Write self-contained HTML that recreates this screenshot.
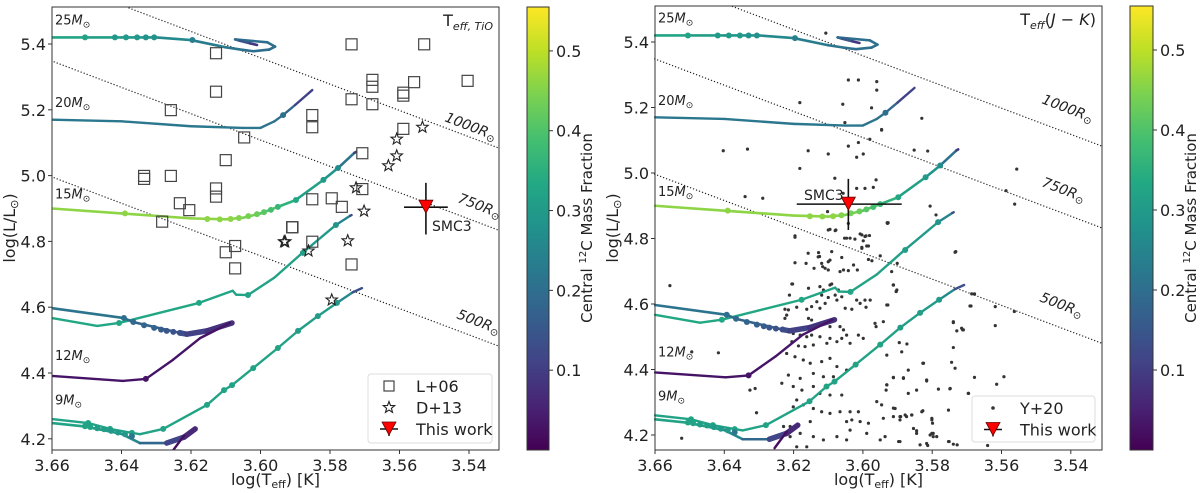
<!DOCTYPE html>
<html><head><meta charset="utf-8">
<style>
html,body{margin:0;padding:0;background:#fff;width:1200px;height:493px;overflow:hidden;}
svg{display:block;font-family:"DejaVu Sans","Liberation Sans",sans-serif;}
</style></head>
<body>
<svg id="fig" width="1200" height="493" viewBox="0 0 1200 493" xmlns="http://www.w3.org/2000/svg">
<defs>
<linearGradient id="viridis" x1="0" y1="1" x2="0" y2="0">
<stop offset="0" stop-color="#440154"/><stop offset="0.1" stop-color="#482475"/><stop offset="0.2" stop-color="#414487"/><stop offset="0.3" stop-color="#355f8d"/><stop offset="0.4" stop-color="#2a788e"/><stop offset="0.5" stop-color="#21918c"/><stop offset="0.6" stop-color="#22a884"/><stop offset="0.7" stop-color="#44bf70"/><stop offset="0.8" stop-color="#7ad151"/><stop offset="0.9" stop-color="#bddf26"/><stop offset="1" stop-color="#fde725"/>
</linearGradient>
<clipPath id="clipL"><rect x="52" y="7" width="447" height="443"/></clipPath>
<clipPath id="clipR"><rect x="654" y="6" width="448" height="444"/></clipPath>
</defs>
</svg>
<script>
// ---------- data ----------
const xTicks=[3.66,3.64,3.62,3.60,3.58,3.56,3.54];
const yTicks=[4.2,4.4,4.6,4.8,5.0,5.2,5.4];
const cbTicks=[0.1,0.2,0.3,0.4,0.5];
const cbMax=0.555;
const radii=[500,750,1000];
const radiusLabels=["500","750","1000"];
const massLabels=["25","20","15","12","9"];
const massLabelL=[5.46,5.208,4.93,4.44,4.305];

const t25T=[3.66,3.650,3.640,3.630,3.620,3.610,3.605,3.602,3.5975,3.5958,3.598,3.6073,3.606,3.603,3.601];
const t25L=[5.42,5.42,5.42,5.42,5.412,5.39,5.382,5.378,5.383,5.392,5.405,5.414,5.41,5.402,5.397];
const t25C=[0.33,0.32,0.30,0.28,0.24,0.22,0.21,0.2,0.2,0.2,0.2,0.2,0.18,0.12,0.05];
const d25T=[3.6505,3.6419,3.6387,3.6355,3.6330,3.6306,3.6196];
const d25L=[5.42,5.42,5.42,5.42,5.42,5.42,5.412];

const t20T=[3.66,3.64,3.62,3.605,3.600,3.596,3.5935,3.590,3.5851];
const t20L=[5.17,5.165,5.15,5.145,5.145,5.165,5.184,5.215,5.260];
const t20C=[0.22,0.22,0.22,0.22,0.22,0.21,0.2,0.17,0.05];
const d20T=[3.5935];
const d20L=[5.184];

const t15T=[3.66,3.64,3.62,3.61,3.605,3.60,3.595,3.59,3.5819,3.5777,3.573,3.5725];
const t15L=[4.90,4.885,4.87,4.867,4.872,4.885,4.905,4.925,4.987,5.023,5.069,5.072];
const t15C=[0.46,0.46,0.46,0.46,0.45,0.43,0.38,0.33,0.30,0.27,0.15,0.05];
const d15T=[3.639,3.6153,3.6117,3.6086,3.6062,3.6035,3.601,3.599,3.597,3.595,3.5898,3.5819,3.5777];
const d15L=[4.885,4.868,4.867,4.868,4.871,4.877,4.883,4.889,4.896,4.905,4.926,4.987,5.023];
const d15C=[0.46,0.46,0.46,0.46,0.45,0.44,0.43,0.41,0.39,0.37,0.33,0.30,0.27];

const tBT=[3.66,3.647,3.6407,3.6177,3.608,3.607,3.6036,3.596,3.5886,3.5783,3.5742,3.5738];
const tBL=[4.567,4.543,4.552,4.613,4.65,4.638,4.637,4.69,4.759,4.850,4.878,4.880];
const tBC=[0.33,0.33,0.33,0.33,0.32,0.32,0.32,0.32,0.31,0.29,0.2,0.05];
const dBT=[3.6407,3.6177,3.6036,3.5878,3.5783];
const dBL=[4.552,4.613,4.637,4.765,4.850];

const tUT=[3.66,3.6393,3.6367,3.6232,3.6212,3.6154,3.6082];
const tUL=[4.597,4.567,4.555,4.522,4.518,4.528,4.552];
const tUC=[0.22,0.2,0.19,0.15,0.12,0.09,0.07];
const dUT=[3.6393,3.6366,3.6335,3.6306,3.6286,3.6270,3.6251,3.6232];
const dUL=[4.567,4.555,4.545,4.537,4.532,4.528,4.525,4.522];
const dUC=[0.2,0.19,0.18,0.17,0.16,0.15,0.14,0.13];

const t12T=[3.66,3.6396,3.633,3.6252,3.6174,3.6088];
const t12L=[4.391,4.376,4.382,4.44,4.506,4.552];
const t12C=[0.03,0.03,0.03,0.03,0.03,0.03];
const d12T=[3.633];
const d12L=[4.382];

const t9aT=[3.66,3.6496,3.6433,3.637,3.6347,3.628,3.6154,3.6105,3.6082,3.6021,3.595,3.5892,3.5835,3.578,3.5735,3.5708];
const t9aL=[4.26,4.248,4.23,4.218,4.214,4.23,4.303,4.348,4.363,4.415,4.476,4.528,4.573,4.613,4.645,4.658];
const t9aC=[0.32,0.32,0.32,0.32,0.32,0.32,0.32,0.32,0.32,0.32,0.32,0.31,0.31,0.3,0.22,0.05];
const d9aT=[3.6496,3.6433,3.637,3.628,3.6154,3.6105,3.6082,3.6021,3.595,3.5892,3.5835,3.578];
const d9aL=[4.248,4.23,4.218,4.23,4.303,4.348,4.363,4.415,4.476,4.528,4.573,4.613];

const t9bT=[3.66,3.651,3.646,3.640,3.6347,3.627,3.622,3.6188];
const t9bL=[4.248,4.238,4.228,4.215,4.187,4.187,4.205,4.23];
const t9bC=[0.32,0.32,0.31,0.30,0.22,0.15,0.08,0.05];
const d9bT=[3.6505,3.649,3.647,3.645,3.643,3.641,3.639,3.637];
const d9bL=[4.238,4.236,4.232,4.229,4.224,4.219,4.214,4.208];

const t9cT=[3.622,3.6255];
const t9cL=[4.21,4.16];
const t9cC=[0.02,0.02];

// L+06 squares (left panel)
const sqT=[3.6128,3.6128,3.6258,3.6047,3.6100,3.6335,3.6335,3.6258,3.6128,3.6128,3.6232,3.6205,3.6283,3.6073,3.6100,3.6073,3.5909,3.5738,3.5529,3.5678,3.5678,3.5558,3.5404,3.5589,3.5589,3.5738,3.5678,3.5589,3.5851,3.5851,3.5707,3.5707,3.5851,3.5795,3.5766,3.5908,3.5851,3.5738];
const sqL=[5.372,5.255,5.199,5.116,5.047,4.999,4.990,4.999,4.961,4.936,4.916,4.895,4.860,4.786,4.767,4.718,4.843,5.399,5.399,5.291,5.270,5.284,5.288,5.252,5.243,5.232,5.217,5.142,5.184,5.147,5.068,4.959,4.928,4.931,4.905,4.843,4.799,4.730];
// D+13 stars (left panel)
const stT=[3.5932,3.5534,3.5608,3.5608,3.5632,3.5725,3.5702,3.5929,3.5862,3.5749,3.5795];
const stL=[4.799,5.147,5.111,5.060,5.030,4.963,4.892,4.799,4.771,4.802,4.622];
// Y+20 dots (right panel)
const yT=[3.6196,3.6095,3.6080,3.6042,3.6053,3.6037,3.6008,3.5991,3.5981,3.5999,3.5984,3.6003,3.5929,3.6090,3.6128,3.6125,3.6061,3.6100,3.6196,3.6164,3.6119,3.6141,3.6109,3.6116,3.6100,3.6066,3.6056,3.6042,3.6027,3.6016,3.5984,3.5950,3.5974,3.6203,3.6212,3.6157,3.6124,3.6095,3.6090,3.6114,3.6119,3.6100,3.6080,3.6075,3.6061,3.6071,3.6032,3.6018,3.6008,3.5994,3.5979,3.5991,3.6032,3.6051,3.6109,3.6133,3.6148,3.6124,3.6162,3.6191,3.6225,3.6215,3.6220,3.6225,3.6157,3.6148,3.6172,3.6143,3.6114,3.6095,3.6066,3.6056,3.6047,3.6061,3.6095,3.6124,3.6148,3.6162,3.6181,3.6201,3.6205,3.6186,3.6167,3.6143,3.6104,3.6075,3.6037,3.6013,3.5999,3.5965,3.5962,3.5912,3.5904,3.5931,3.5734,3.5739,3.5715,3.5710,3.5691,3.5686,3.5678,3.5895,3.5873,3.5931,3.5825,3.5816,3.5883,3.5912,3.5931,3.5933,3.5869,3.5845,3.5748,3.5695,3.6220,3.6196,3.6172,3.6152,3.6119,3.6095,3.6075,3.6047,3.6085,3.6114,3.6143,3.6181,3.6215,3.6234,3.6201,3.6176,3.6143,3.6124,3.6095,3.6061,3.6191,3.6201,3.6172,3.6143,3.6119,3.6095,3.6066,3.6037,3.6013,3.6032,3.6047,3.6008,3.5984,3.5960,3.5946,3.5907,3.5912,3.5893,3.5878,3.5859,3.5830,3.5801,3.5797,3.5854,3.5893,3.5897,3.5845,3.5806,3.5787,3.5753,3.5739,3.5816,3.5950,3.5989,3.6037,3.6047,3.6075,3.6114,3.6143,3.6152,3.6181,3.6210,3.6210,3.6229,3.6162,3.6191,
3.6107,3.6042,3.6013,3.5960,3.5960,3.6182,3.6058,3.5975,3.5946,3.6052,3.6403,3.6333,3.6158,3.6100,3.6042,3.6013,3.5999,3.6018,3.5980,3.6182,3.6081,3.6057,3.6018,3.5994,3.5970,3.5962,3.6340,3.6289,3.6102,3.6100,3.6078,3.6196,3.6047,3.6023,3.6003,3.5994,3.6003,3.5989,3.5927,3.6557,3.6158,3.6129,3.6205,3.6095,3.5912,3.5902,3.6494,3.6417,3.6523,3.6326,3.6311,3.6307,
3.5830,3.5946,3.5852,3.5813,3.5556,3.5587,3.5562,3.5806,3.5789,3.5930,3.5732,3.5901,3.5917,3.5912,3.5904,3.5678,3.5688,3.5618,3.5563,3.5928,3.5941,3.5739,3.5729,3.5712,3.5618,3.5739,3.5827,3.5744,3.5734,3.5678,3.5593,3.5614,3.5696,3.5782,3.5749,3.5816,3.5869,3.5883,3.5912,3.5888,3.5931,3.5753,3.5801,3.5799,3.5801,3.5797,3.5751,3.5728,3.5640,3.5813,3.5859,3.5891,3.5874,3.5912,3.5941,3.5936,3.5893,3.5835,3.5827,3.5845];
const yL=[4.808,4.828,4.824,4.846,4.801,4.801,4.814,4.808,4.809,4.793,4.777,4.770,4.846,4.760,4.757,4.745,4.742,4.729,4.726,4.724,4.724,4.709,4.709,4.714,4.704,4.699,4.704,4.702,4.719,4.704,4.736,4.747,4.732,4.661,4.627,4.648,4.653,4.658,4.661,4.643,4.627,4.620,4.627,4.612,4.622,4.643,4.638,4.612,4.602,4.612,4.612,4.590,4.584,4.587,4.602,4.607,4.592,4.587,4.584,4.590,4.584,4.582,4.566,4.556,4.556,4.551,4.521,4.529,4.541,4.531,4.531,4.521,4.505,4.495,4.495,4.500,4.505,4.500,4.505,4.510,4.485,4.472,4.470,4.475,4.480,4.485,4.480,4.505,4.495,4.541,4.531,4.658,4.638,4.597,4.758,4.543,4.526,4.521,4.594,4.631,4.631,4.482,4.478,4.444,4.419,4.368,4.373,4.376,4.353,4.337,4.327,4.337,4.342,4.327,4.449,4.439,4.429,4.419,4.424,4.434,4.409,4.398,4.378,4.378,4.388,4.373,4.383,4.358,4.348,4.337,4.348,4.327,4.322,4.322,4.307,4.286,4.292,4.281,4.271,4.266,4.271,4.271,4.271,4.246,4.241,4.241,4.236,4.302,4.292,4.281,4.256,4.256,4.261,4.261,4.271,4.246,4.205,4.220,4.246,4.180,4.213,4.200,4.195,4.180,4.172,4.174,4.185,4.205,4.215,4.185,4.195,4.185,4.195,4.241,4.205,4.195,4.226,4.226,4.164,4.164,
5.427,5.284,5.284,5.279,5.253,5.215,5.210,5.199,5.133,5.154,5.068,5.073,5.068,5.058,5.082,5.093,5.058,5.048,5.103,5.014,4.984,4.938,4.953,4.953,4.956,4.979,4.928,4.923,4.882,4.826,4.826,4.804,4.801,4.798,4.811,4.806,4.773,4.777,4.848,4.656,4.755,4.744,4.661,4.734,4.658,4.643,4.454,4.451,4.190,4.337,4.342,4.268,
5.167,5.131,5.070,5.067,5.012,4.946,4.905,4.899,4.872,4.848,4.760,4.724,4.699,4.658,4.638,4.630,4.594,4.592,4.577,4.597,4.546,4.546,4.518,4.521,4.534,4.467,4.419,4.422,4.404,4.376,4.378,4.355,4.327,4.340,4.341,4.365,4.398,4.375,4.375,4.454,4.353,4.276,4.251,4.236,4.205,4.195,4.180,4.170,4.168,4.168,4.261,4.256,4.256,4.282,4.251,4.195,4.180,4.170,4.274,4.205];

// "This work" (SMC3) points
const workLeft={T:3.5524,L:4.904,Lerr:[4.821,4.978],Terr:[3.5587,3.5461]};
const workRight={T:3.6042,L:4.905,Lerr:[4.826,4.982],Terr:[3.6191,3.5888]};

// ---------- helpers ----------
const NS="http://www.w3.org/2000/svg";
const svg=document.getElementById('fig');
const VIR=["#440154","#482475","#414487","#355f8d","#2a788e","#21918c","#22a884","#44bf70","#7ad151","#bddf26","#fde725"];
function hex2rgb(h){return [parseInt(h.substr(1,2),16),parseInt(h.substr(3,2),16),parseInt(h.substr(5,2),16)];}
function viridis(c){let t=Math.max(0,Math.min(1,c/cbMax))*10;let i=Math.min(9,Math.floor(t));let f=t-i;let a=hex2rgb(VIR[i]),b=hex2rgb(VIR[i+1]);return "rgb("+a.map((v,k)=>Math.round(v+(b[k]-v)*f)).join(",")+")";}
function mk(tag,attrs,parent){const e=document.createElementNS(NS,tag);for(const k in attrs)e.setAttribute(k,attrs[k]);(parent||svg).appendChild(e);return e;}
function interpC(Ts,Cs,T){let best=0,bd=1e9;for(let i=0;i<Ts.length;i++){const d=Math.abs(Ts[i]-T);if(d<bd){bd=d;best=i;}}return Cs[best];}
function starPts(cx,cy,R){const r=R*0.42;let s=[];for(let k=0;k<10;k++){const a=-Math.PI/2+k*Math.PI/5;const rr=k%2?r:R;s.push((cx+rr*Math.cos(a)).toFixed(2)+','+(cy+rr*Math.sin(a)).toFixed(2));}return s.join(' ');}

const tracks=[
 {T:t25T,L:t25L,C:t25C,dT:d25T,dL:d25L,w:2.6,thick:false},
 {T:t20T,L:t20L,C:t20C,dT:d20T,dL:d20L,w:2.4,thick:false},
 {T:tBT,L:tBL,C:tBC,dT:dBT,dL:dBL,w:2.4,thick:false},
 {T:tUT,L:tUL,C:tUC,dT:dUT,dL:dUL,dC:dUC,w:2.6,thick:true},
 {T:t12T,L:t12L,C:t12C,dT:d12T,dL:d12L,w:2.4,thick:false},
 {T:t9aT,L:t9aL,C:t9aC,dT:d9aT,dL:d9aL,w:2.4,thick:false},
 {T:t9bT,L:t9bL,C:t9bC,dT:d9bT,dL:d9bL,w:2.6,thick:true},
 {T:t9cT,L:t9cL,C:t9cC,dT:[],dL:[],w:2.4,thick:false},
 {T:t15T,L:t15L,C:t15C,dT:d15T,dL:d15L,dC:d15C,w:2.6,thick:false}
];

function panel(p){
 const g=mk('g',{});
 
 
 const X=T=>p.x0+(3.66-T)*p.sx;
 const Y=L=>p.y0+(5.4-L)*p.sy;
 const plot=mk('g',{'clip-path':'url(#'+p.clip+')'},g);
 
 
 radii.forEach((R,i)=>{
  const c=2*Math.log10(R)-15.042;
  const T1=3.70,T2=3.50;
  const ln=mk('line',{x1:X(T1),y1:Y(4*T1+c),x2:X(T2),y2:Y(4*T2+c),stroke:'#222','stroke-width':1.2,'stroke-dasharray':'1.2,2'},plot);
  
  
 });
 if(p.kind==='right'){
  yT.forEach((T,i)=>{
   const d=mk('circle',{cx:X(T),cy:Y(yL[i]),r:1.6,fill:'#333'},plot);
   
   
  });
 }
 tracks.forEach((tr,ti)=>{
  const tg=mk('g',{},plot);
  
  
  for(let i=0;i<tr.T.length-1;i++){
   const c=(tr.C[i]+tr.C[i+1])/2;
   const w=(tr.thick && c<0.15)?5.5:tr.w;
   mk('line',{x1:X(tr.T[i]),y1:Y(tr.L[i]),x2:X(tr.T[i+1]),y2:Y(tr.L[i+1]),stroke:viridis(c),'stroke-width':w,'stroke-linecap':'round'},tg);
  }
  tr.dT.forEach((T,i)=>{
   const c=tr.dC?tr.dC[i]:interpC(tr.T,tr.C,T);
   mk('circle',{cx:X(T),cy:Y(tr.dL[i]),r:3,fill:viridis(c)},tg);
  });
 });
 if(p.kind==='left'){
  sqT.forEach((T,i)=>{
   const s=mk('rect',{x:X(T)-5.5,y:Y(sqL[i])-5.5,width:11,height:11,fill:'none',stroke:'#444','stroke-width':1.2},plot);
   
   
  });
  stT.forEach((T,i)=>{
   const s=mk('polygon',{points:starPts(X(T),Y(stL[i]),6),fill:'none',stroke:'#222','stroke-width':1.1},plot);
   
   
  });
 }
 const w=p.work;
 const wg=mk('g',{},g);
 
 
 mk('line',{x1:X(w.T),y1:Y(w.Lerr[0]),x2:X(w.T),y2:Y(w.Lerr[1]),stroke:'#111','stroke-width':1.6},wg);
 mk('line',{x1:X(w.Terr[0]),y1:Y(w.L),x2:X(w.Terr[1]),y2:Y(w.L),stroke:'#111','stroke-width':1.6},wg);
 const cx=X(w.T),cy=Y(w.L);
 mk('polygon',{points:`${cx-7},${cy-7} ${cx+7},${cy-7} ${cx},${cy+6}`,fill:'#ff0000',stroke:'#600','stroke-width':0.8},wg);
 const sl=mk('text',{x:p.smcX,y:p.smcY,'font-size':14,fill:'#222'},wg);
 sl.textContent='SMC3';
 
 
 radii.forEach((R,i)=>{
  const lb=mk('text',{x:0,y:0,'font-size':14,'font-style':'italic',fill:'#222',transform:`translate(${p.rLab[i][0]},${p.rLab[i][1]}) rotate(21)`},g);
  lb.innerHTML=radiusLabels[i]+'R<tspan font-size="10" dy="3">⊙</tspan>';
  
  
 });
 massLabels.forEach((m,i)=>{
  const t=mk('text',{x:p.x0+3,y:Y(massLabelL[i]),'font-size':13,fill:'#222'},g);
  t.innerHTML=m+'<tspan font-style="italic">M</tspan><tspan font-size="9" dy="3">⊙</tspan>';
  
  
 });
 const fr=mk('rect',{x:p.x0,y:p.top,width:p.right-p.x0,height:p.bot-p.top,fill:'none',stroke:'#333','stroke-width':1},g);
 
 
 xTicks.forEach(v=>{
  const x=X(v);
  mk('line',{x1:x,y1:p.bot,x2:x,y2:p.bot+4,stroke:'#333'},g);
  const t=mk('text',{x:x,y:p.bot+21,'text-anchor':'middle','font-size':16,fill:'#222'},g);
  t.textContent=v.toFixed(2);
  
  
 });
 yTicks.forEach(v=>{
  const y=Y(v);
  mk('line',{x1:p.x0-4,y1:y,x2:p.x0,y2:y,stroke:'#333'},g);
  const t=mk('text',{x:p.x0-6,y:y+6,'text-anchor':'end','font-size':16,fill:'#222'},g);
  t.textContent=v.toFixed(1);
  
  
 });
 const xl=mk('text',{x:(p.x0+p.right)/2,y:485,'text-anchor':'middle','font-size':16,fill:'#222'},g);
 xl.innerHTML='log(T<tspan font-size="11" dy="3">eff</tspan><tspan dy="-3">) [K]</tspan>';
 
 
 const yl=mk('text',{x:0,y:0,'text-anchor':'middle','font-size':16,fill:'#222',transform:`translate(${p.x0-37},228) rotate(-90)`},g);
 yl.innerHTML='log(L/L<tspan font-size="11" dy="3">⊙</tspan><tspan dy="-3">)</tspan>';
 
 
 const ct=mk('text',{x:p.right-6,y:p.top+19,'text-anchor':'end','font-size':16,fill:'#222'},g);
 ct.innerHTML=p.title;
 
 
 const lg=mk('g',{},g);
 
 
 mk('rect',{x:p.leg[0],y:p.leg[1],width:p.leg[2],height:p.leg[3],rx:3,fill:'#fff',stroke:'#ddd'},lg);
 p.legEntries.forEach((e,i)=>{
  const yy=p.leg[1]+12+i*21.5;
  const mx=p.leg[0]+21;
  if(e.m==='sq')mk('rect',{x:mx-5,y:yy-5,width:10,height:10,fill:'none',stroke:'#444','stroke-width':1.2},lg);
  if(e.m==='star')mk('polygon',{points:starPts(mx,yy,6),fill:'none',stroke:'#222','stroke-width':1.1},lg);
  if(e.m==='dot')mk('circle',{cx:mx,cy:yy,r:1.8,fill:'#333'},lg);
  if(e.m==='tri'){mk('line',{x1:mx-9,y1:yy,x2:mx+9,y2:yy,stroke:'#111','stroke-width':1.5},lg);mk('line',{x1:mx,y1:yy-7,x2:mx,y2:yy+7,stroke:'#111','stroke-width':1.5},lg);mk('polygon',{points:`${mx-7},${yy-7} ${mx+7},${yy-7} ${mx},${yy+6}`,fill:'#ff0000',stroke:'#600','stroke-width':0.8},lg);}
  const t=mk('text',{x:p.leg[0]+48,y:yy+6,'font-size':16,fill:'#222'},lg);
  t.textContent=e.t;
  
  
 });
 const cb=mk('g',{},g);
 
 
 mk('rect',{x:p.cb[0],y:p.top,width:p.cb[1]-p.cb[0],height:p.bot-p.top,fill:'url(#viridis)',stroke:'#333','stroke-width':1},cb);
 cbTicks.forEach(v=>{
  const y=p.bot-(v/cbMax)*(p.bot-p.top);
  mk('line',{x1:p.cb[1],y1:y,x2:p.cb[1]+4,y2:y,stroke:'#333'},cb);
  const t=mk('text',{x:p.cb[1]+7,y:y+6,'font-size':16,fill:'#222'},cb);
  t.textContent=v.toFixed(1);
  
  
 });
 const cl=mk('text',{x:0,y:0,'text-anchor':'middle','font-size':15,fill:'#222',transform:`translate(${p.cb[1]+43},228) rotate(-90)`},cb);
 cl.innerHTML='Central <tspan font-size="10" dy="-6">12</tspan><tspan dy="6">C Mass Fraction</tspan>';
 
 
}

panel({name:'left-panel-tio',kind:'left',x0:52,right:499,top:7,bot:450,y0:44,sx:3475,sy:329,clip:'clipL',
 work:workLeft,smcX:432,smcY:231,rLab:[[456,318],[457,202],[444,121]],
 title:'T<tspan font-size="11" font-style="italic" dy="4">eff, TiO</tspan>',
 leg:[368,374,124,69],legEntries:[{m:'sq',t:'L+06'},{m:'star',t:'D+13'},{m:'tri',t:'This work'}],cb:[527,549]});
panel({name:'right-panel-jk',kind:'right',x0:655,right:1102,top:6,bot:450,y0:42,sx:3465,sy:327.5,clip:'clipR',
 work:workRight,smcX:804,smcY:200,rLab:[[1039,301],[1041,186],[1041,103]],
 title:'T<tspan font-size="11" font-style="italic" dy="4">eff</tspan><tspan dy="-4">(</tspan><tspan font-style="italic">J</tspan> − <tspan font-style="italic">K</tspan>)',
 leg:[972,396,123,46],legEntries:[{m:'dot',t:'Y+20'},{m:'tri',t:'This work'}],cb:[1130,1153]});
</script>
</body></html>
